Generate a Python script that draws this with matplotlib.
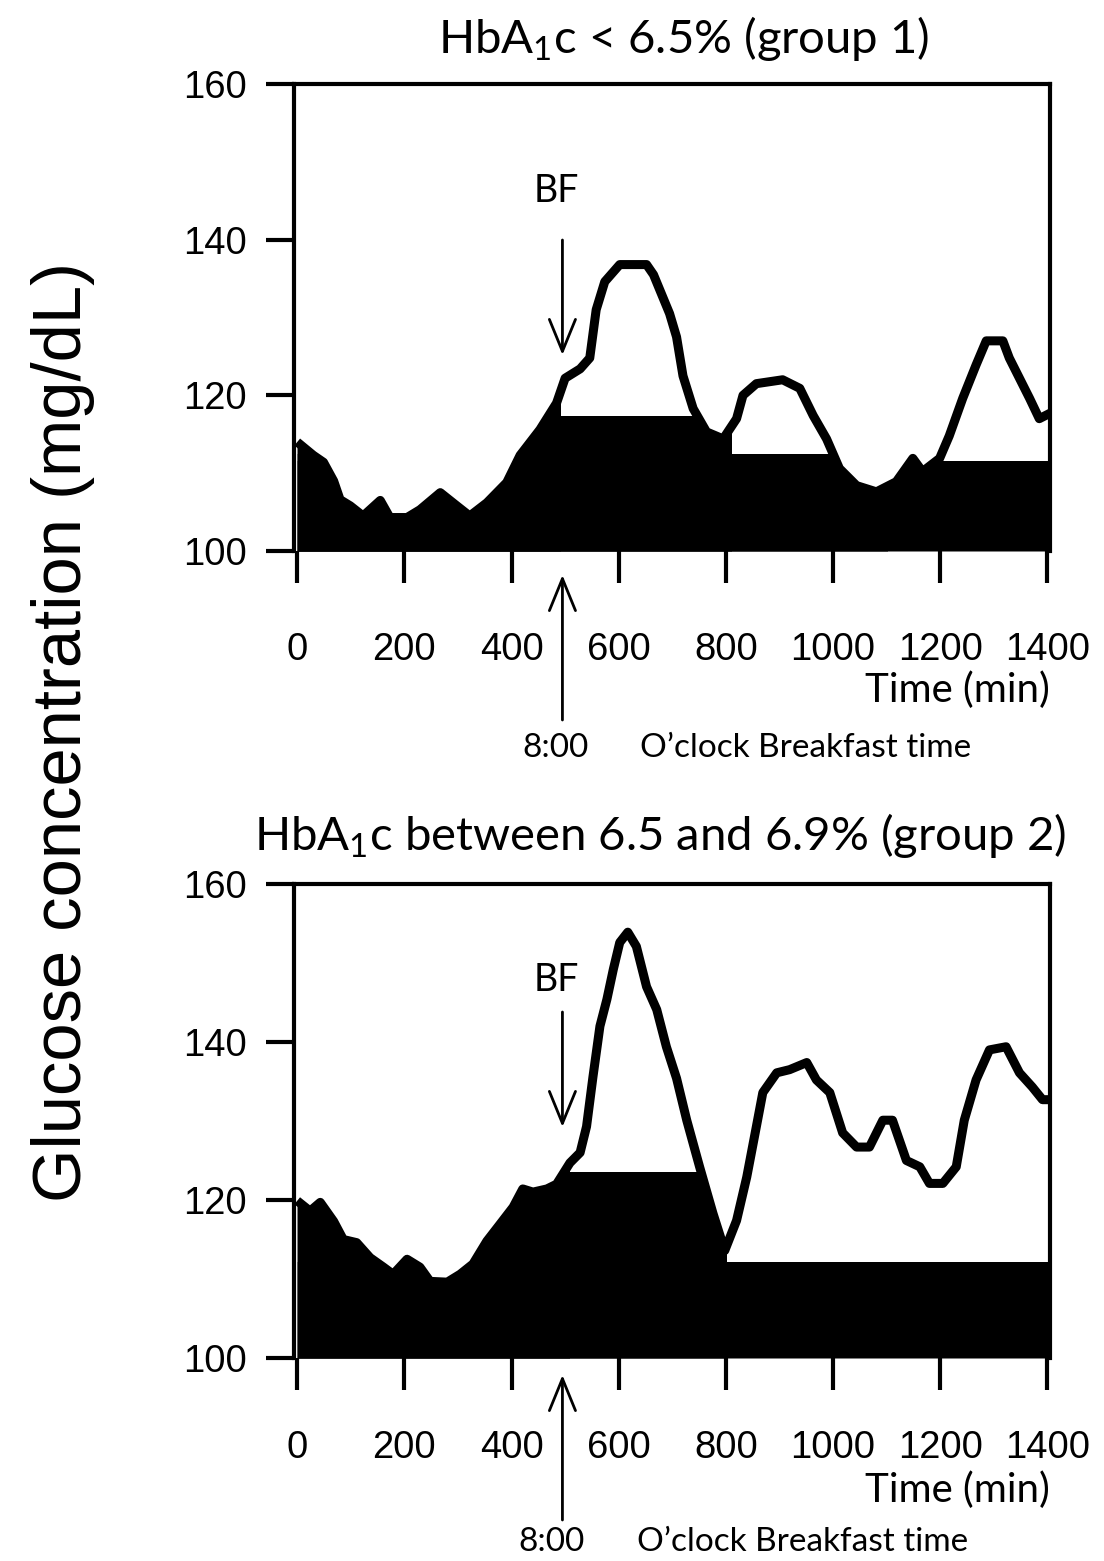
import numpy as np
import matplotlib.pyplot as plt
from matplotlib.patches import Rectangle

# glucose curves (time in min, glucose in mg/dL)
top_t = [0, 30, 49, 68, 80, 99, 123, 155, 173, 205, 229, 267, 298, 322, 354, 391, 416, 453, 484, 500,
         528, 546, 558, 574, 602, 652, 665, 680, 695, 708, 720, 739, 764, 795, 820, 832, 857, 906, 938, 963,
         988, 1012, 1044, 1081, 1118, 1149, 1167, 1199, 1217, 1242, 1267, 1286, 1317, 1329, 1348, 1367, 1385, 1405]
top_g = [114, 112.3, 111.4, 109, 106.6, 105.8, 104.5, 106.5, 104.3, 104.3, 105.3, 107.5, 105.8, 104.5, 106.2, 108.8, 112.3, 115.6, 119.0, 122.2,
         123.4, 124.8, 131, 134.6, 136.8, 136.8, 135.5, 133, 130.5, 127.5, 122.5, 118.3, 115.3, 114.4, 117, 120, 121.5, 122, 120.9, 117.4,
         114.4, 110.6, 108.4, 107.6, 108.9, 111.9, 110.2, 111.9, 114.8, 119.6, 123.9, 127, 127, 124.8, 122.2, 119.6, 117, 117.7]

bot_t = [0, 24, 43, 68, 86, 111, 136, 161, 179, 205, 229, 248, 280, 304, 328, 354, 378, 403, 421, 440,
         466, 484, 509, 528, 540, 552, 565, 578, 590, 602, 617, 633, 652, 671, 689, 708, 727, 751, 776, 798,
         820, 839, 857, 869, 895, 919, 951, 969, 994, 1018, 1044, 1068, 1093, 1111, 1137, 1162, 1180, 1205, 1230, 1245,
         1267, 1292, 1323, 1348, 1372, 1391, 1405]
bot_g = [119.9, 118.6, 119.7, 117.3, 115, 114.6, 112.7, 111.5, 110.6, 112.5, 111.5, 109.7, 109.6, 110.6, 111.9, 114.8, 116.9, 119.1, 121.4, 121,
         121.4, 122, 124.7, 126, 129.3, 135.6, 142, 145.4, 149.2, 152.6, 153.9, 152.1, 147, 144.1, 139.4, 135.4, 130.1, 124.2, 118.3, 113.6,
         117.4, 122.9, 129.3, 133.6, 136.1, 136.5, 137.4, 135.2, 133.6, 128.5, 126.7, 126.7, 130.1, 130.1, 125, 124.2, 122.1, 122.1, 124.2, 130.1,
         135.2, 139, 139.4, 136.1, 134.3, 132.7, 132.7]

# black area is capped at a level per time window
top_cap_edges = [0, 490, 810, 1100, 1405]
top_cap_levels = [160, 117.3, 112.5, 111.6]
bot_cap_edges = [0, 508, 800, 1405]
bot_cap_levels = [160, 123.5, 112.1]

bf_time = 495
xticks = [0, 200, 400, 600, 800, 1000, 1200, 1400]
yticks = [100, 120, 140, 160]

titles = [r'HbA$_\mathregular{1}$c < 6.5% (group 1)',
          r'HbA$_\mathregular{1}$c between 6.5 and 6.9% (group 2)']

W, H = 1104, 1561
fig = plt.figure(figsize=(W / 100, H / 100), dpi=100)

# axes boxes in pixels: left, right, top, bottom
boxes = [(294, 1050, 84, 551), (294, 1050, 884, 1358)]
tick_pads = [35, 29]


def draw_panel(ax, t, g, edges, levels):
    # fill under the curve, clipped to each window's cap
    for k, level in enumerate(levels):
        poly = ax.fill_between(t, 100, g, color='black', lw=0, zorder=1)
        poly.set_clip_path(Rectangle((edges[0], 100), edges[k + 1] - edges[0], level - 100,
                                     transform=ax.transData))
    ax.plot(t, g, color='black', lw=6.5, zorder=2, solid_capstyle='butt')


panels = [(top_t, top_g, top_cap_edges, top_cap_levels),
          (bot_t, bot_g, bot_cap_edges, bot_cap_levels)]

for i, (t, g, edges, levels) in enumerate(panels):
    l, r, tp, b = boxes[i]
    ax = fig.add_axes([l / W, 1 - b / H, (r - l) / W, (b - tp) / H])
    draw_panel(ax, t, g, edges, levels)
    ax.set_xlim(-6, 1405)
    ax.set_ylim(100, 160)
    ax.set_xticks(xticks)
    ax.set_yticks(yticks)
    ax.spines['bottom'].set_visible(False)
    for s in ['left', 'top', 'right']:
        ax.spines[s].set_linewidth(3)
    ax.tick_params(axis='x', direction='out', length=23, width=3, pad=tick_pads[i])
    ax.tick_params(axis='y', direction='out', length=20, width=3, pad=14)
    for lab in ax.get_xticklabels() + ax.get_yticklabels():
        lab.set_fontfamily('Liberation Sans')
        lab.set_fontsize(27.5)

    h = b - tp
    ax.text(((684 if i == 0 else 660) - l) / (r - l), (b - (53 if i == 0 else 850)) / h, titles[i],
            transform=ax.transAxes, ha='center', va='baseline', fontsize=34, family='Lato')
    ax.text(1.0, (b - (690 if i == 0 else 1490)) / h, 'Time (min)', transform=ax.transAxes,
            ha='right', va='center', fontsize=29, family='Lato')

    # BF arrow inside the plot
    bf_y = 191 if i == 0 else 980
    ax.text(bf_time - 12, (b - bf_y) / h, 'BF', transform=ax.get_xaxis_transform(),
            ha='center', va='center', fontsize=27, family='Lato')
    head = dict(arrowstyle='->,head_length=1.15,head_width=0.47', lw=2, color='black',
                mutation_scale=20, shrinkA=0, shrinkB=0)
    tail_y, tip_y = (240, 355) if i == 0 else (1012, 1127)
    ax.annotate('', xy=(bf_time, (b - tip_y) / h), xytext=(bf_time, (b - tail_y) / h),
                xycoords=ax.get_xaxis_transform(), textcoords=ax.get_xaxis_transform(),
                arrowprops=head, annotation_clip=False)

    # breakfast time arrow under the axis
    up_tip, up_tail = (575, 720) if i == 0 else (1375, 1520)
    ax.annotate('', xy=(bf_time, (b - up_tip) / h), xytext=(bf_time, (b - up_tail) / h),
                xycoords=ax.get_xaxis_transform(), textcoords=ax.get_xaxis_transform(),
                arrowprops=head, annotation_clip=False)
    note_y = (b - (748 if i == 0 else 1542)) / h
    ax.text(((556 if i == 0 else 552) - l) / (r - l), note_y, '8:00', transform=ax.transAxes,
            ha='center', va='center', fontsize=24, family='Lato')
    ax.text(((640 if i == 0 else 637) - l) / (r - l), note_y, 'O\u2019clock Breakfast time',
            transform=ax.transAxes, ha='left', va='center', fontsize=24, family='Lato')

fig.text(63 / W, 1 - 732 / H, 'Glucose concentration (mg/dL)', rotation=90,
         ha='center', va='center', fontsize=49.5, family='Liberation Sans')

fig.savefig('out.png', dpi=100)
